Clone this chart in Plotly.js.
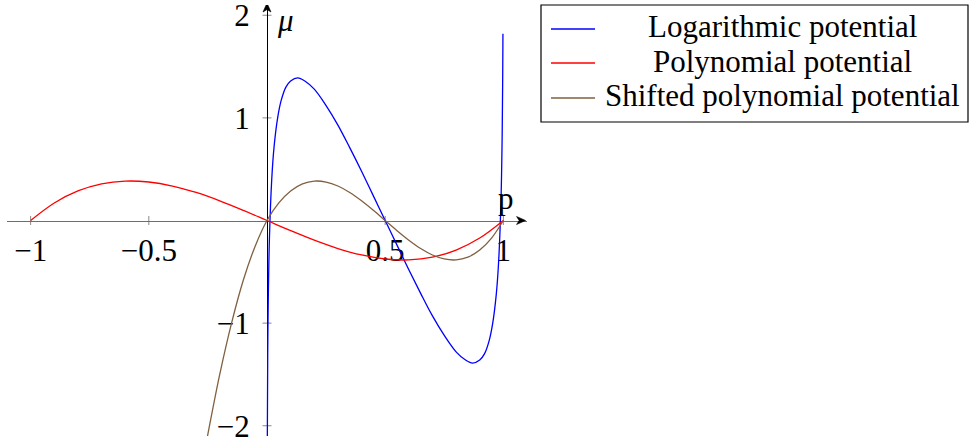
<!DOCTYPE html>
<html>
<head>
<meta charset="utf-8">
<script src="https://cdn.plot.ly/plotly-3.0.1.min.js"></script>
<style>
  html, body { margin: 0; padding: 0; background: #ffffff; }
  #chart { width: 970px; height: 442px; }
</style>
</head>
<body>
<div id="chart"></div>
<script>
// Chemical potential curves mu(p)

// Logarithmic potential
const pLog = [0.0012, 0.003, 0.005, 0.01, 0.02, 0.03, 0.045, 0.06, 0.08, 0.1, 0.13, 0.16, 0.2, 0.25, 0.3, 0.35, 0.4, 0.45, 0.5,
              0.55, 0.6, 0.65, 0.7, 0.75, 0.8, 0.84, 0.87, 0.9, 0.92, 0.94, 0.955, 0.97, 0.98, 0.99, 0.995, 0.997, 0.998, 0.9982];
const muLog = [-2.21, -1.33, -0.84, -0.20, 0.40, 0.72, 1.00, 1.17, 1.30, 1.36, 1.39, 1.36, 1.28, 1.12, 0.93, 0.71, 0.48, 0.24, 0.00,
               -0.24, -0.48, -0.71, -0.93, -1.12, -1.28, -1.36, -1.39, -1.36, -1.30, -1.17, -1.00, -0.72, -0.40, 0.20, 0.84, 1.33, 1.72, 1.82];

// Polynomial potential
const pPoly = [-1, -0.9, -0.8, -0.7, -0.6, -0.5, -0.4, -0.3, -0.2, -0.1, 0, 0.1, 0.2, 0.3, 0.4, 0.5, 0.6, 0.7, 0.8, 0.9, 1];
const muPoly = [0, 0.171, 0.288, 0.357, 0.384, 0.375, 0.336, 0.273, 0.192, 0.099, 0, -0.099, -0.192, -0.273, -0.336, -0.375, -0.384, -0.357, -0.288, -0.171, 0];

// Shifted polynomial potential
const pShift = [-0.26, -0.25, -0.2, -0.15, -0.1, -0.05, 0, 0.05, 0.1, 0.15, 0.2, 0.25, 0.3, 0.35, 0.4, 0.45, 0.5,
                0.55, 0.6, 0.65, 0.7, 0.75, 0.8, 0.85, 0.9, 0.95, 1];
const muShift = [-2.2, -2.08, -1.50, -1.00, -0.58, -0.25, 0, 0.171, 0.288, 0.357, 0.384, 0.375, 0.336, 0.273, 0.192, 0.099, 0,
                 -0.099, -0.192, -0.273, -0.336, -0.375, -0.384, -0.357, -0.288, -0.171, 0];

const seriesNames = ['Logarithmic potential', 'Polynomial potential', 'Shifted polynomial potential'];

// Axis ticks
const xTickVals = [-1, -0.5, 0.5, 1];
const xTickText = ['\u22121', '\u22120.5', '0.5', '1'];
const yTickVals = [-2, -1, 1, 2];
const yTickText = ['\u22122', '\u22121', '1', '2'];

const xLabel = 'p';
const yLabel = '\u03bc';

// ---- styling / geometry ----
const W = 970, H = 442;
const M = { l: 7, r: 443, t: 5, b: 6 };
const plotW = W - M.l - M.r, plotH = H - M.t - M.b;
const px = x => (x - M.l) / plotW;          // pixel -> paper x
const py = y => (H - M.b - y) / plotH;      // pixel -> paper y

const FONT = 'Liberation Serif';
const FS = 31;
const colors = ['#0000ff', '#ff0000', '#80603f'];
const xs = [pLog, pPoly, pShift];
const ys = [muLog, muPoly, muShift];

const traces = seriesNames.map((name, i) => ({
  type: 'scatter', mode: 'lines', name: name,
  x: xs[i], y: ys[i],
  line: { color: colors[i], width: 1.3, shape: 'spline', smoothing: 1 },
  hoverinfo: 'skip', cliponaxis: true
}));

// tick marks crossing the axes
const shapes = [];
xTickVals.forEach(v => shapes.push({
  type: 'line', xref: 'x', yref: 'y', ysizemode: 'pixel', yanchor: 0,
  x0: v, x1: v, y0: -4.5, y1: 4.5, line: { color: '#8a8a8a', width: 1 }, layer: 'below'
}));
yTickVals.forEach(v => shapes.push({
  type: 'line', xref: 'x', yref: 'y', xsizemode: 'pixel', xanchor: 0,
  y0: v, y1: v, x0: -4.5, x1: 4.5, line: { color: '#8a8a8a', width: 1 }, layer: 'below'
}));

// arrow heads at the ends of both axes
shapes.push({
  type: 'path', xref: 'x', yref: 'y', xsizemode: 'pixel', ysizemode: 'pixel', xanchor: 1.094, yanchor: 0,
  path: 'M 0 0 L -9 4 L -6.5 0 L -9 -4 Z', fillcolor: '#000000', line: { color: '#000000', width: 0.6 }
});
shapes.push({
  type: 'path', xref: 'x', yref: 'y', xsizemode: 'pixel', ysizemode: 'pixel', xanchor: 0, yanchor: 2.1,
  path: 'M 0 2 L -4 -7 L 0 -4.5 L 4 -7 Z', fillcolor: '#000000', line: { color: '#000000', width: 0.6 }
});

// legend box
const LG = { x0: 541, x1: 968, y0: 5, y1: 122, textCx: 782, rowY: [29, 63, 98], textDy: -2, lineX0: 551, lineX1: 595 };
shapes.push({
  type: 'rect', xref: 'paper', yref: 'paper',
  x0: px(LG.x0), x1: px(LG.x1), y0: py(LG.y1), y1: py(LG.y0),
  line: { color: '#000000', width: 1.2 }, fillcolor: '#ffffff'
});
seriesNames.forEach((n, i) => shapes.push({
  type: 'line', xref: 'paper', yref: 'paper',
  x0: px(LG.lineX0), x1: px(LG.lineX1), y0: py(LG.rowY[i]), y1: py(LG.rowY[i]),
  line: { color: colors[i], width: 1.3 }
}));

const annotations = [];
seriesNames.forEach((n, i) => annotations.push({
  xref: 'paper', yref: 'paper', x: px(LG.textCx), y: py(LG.rowY[i] + LG.textDy),
  xanchor: 'center', yanchor: 'middle', text: n, showarrow: false,
  font: { family: FONT, size: FS, color: '#000000' }
}));

// axis labels
annotations.push({
  xref: 'paper', yref: 'paper', x: px(506), y: py(198), xanchor: 'center', yanchor: 'middle',
  text: xLabel, showarrow: false, font: { family: FONT, size: FS, color: '#000000' }
});
annotations.push({
  xref: 'paper', yref: 'paper', x: px(285), y: py(20), xanchor: 'center', yanchor: 'middle',
  text: '<i>' + yLabel + '</i>', showarrow: false, font: { family: FONT, size: FS, color: '#000000' }
});

const layout = {
  width: W, height: H,
  margin: { l: M.l, r: M.r, t: M.t, b: M.b, pad: 0 },
  paper_bgcolor: '#ffffff', plot_bgcolor: '#ffffff',
  showlegend: false,
  font: { family: FONT, size: FS, color: '#000000' },
  xaxis: {
    range: [-1.1, 1.1], anchor: 'free', position: 0.5,
    showline: true, linecolor: '#6e6e6e', linewidth: 1.8, layer: 'below traces',
    showgrid: false, zeroline: false,
    tickmode: 'array', tickvals: xTickVals, ticktext: xTickText, ticks: '',
    ticklabelstandoff: 1, ticklabeloverflow: 'allow',
    tickfont: { family: FONT, size: FS, color: '#000000' }, fixedrange: true, automargin: false
  },
  yaxis: {
    range: [-2.1, 2.1], anchor: 'free', position: 0.5,
    showline: true, linecolor: '#000000', linewidth: 1, layer: 'below traces',
    showgrid: false, zeroline: false,
    tickmode: 'array', tickvals: yTickVals, ticktext: yTickText, ticks: '',
    ticklabelstandoff: 11, ticklabeloverflow: 'allow',
    tickfont: { family: FONT, size: FS, color: '#000000' }, fixedrange: true, automargin: false
  },
  shapes: shapes,
  annotations: annotations
};

Plotly.newPlot('chart', traces, layout, { displayModeBar: false, staticPlot: true });
</script>
</body>
</html>
